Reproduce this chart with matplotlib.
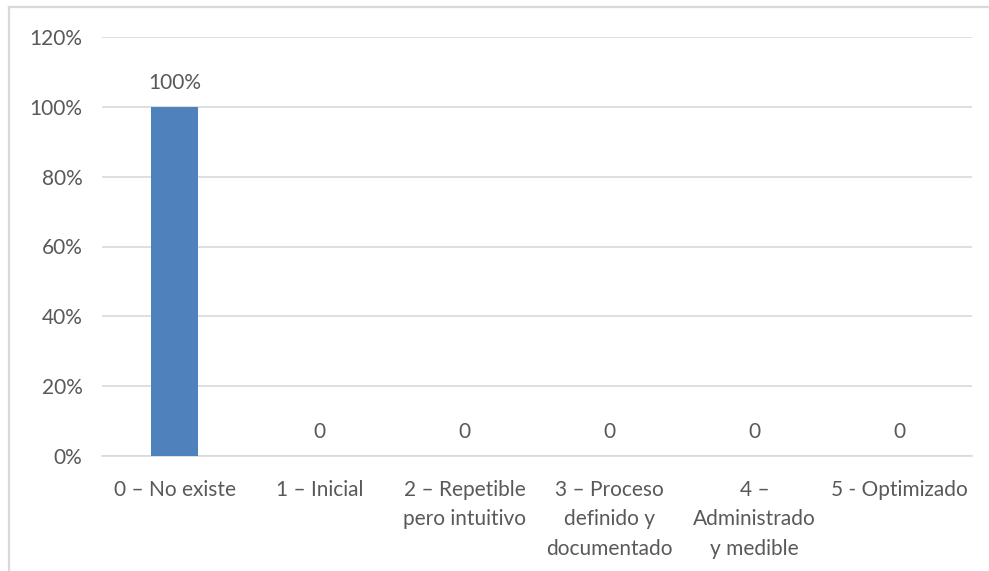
import matplotlib
matplotlib.use("Agg")
import matplotlib.pyplot as plt
from matplotlib.lines import Line2D
from matplotlib.ticker import FuncFormatter

# Maturity levels and share of responses per level
categories = [
    "0 – No existe",
    "1 – Inicial",
    "2 – Repetible\npero intuitivo",
    "3 – Proceso\ndefinido y\ndocumentado",
    "4 –\nAdministrado\ny medible",
    "5 - Optimizado",
]
values = [1.0, 0, 0, 0, 0, 0]
value_labels = ["100%", "0", "0", "0", "0", "0"]
y_ticks = [0, 0.2, 0.4, 0.6, 0.8, 1.0, 1.2]

TEXT = "#595959"
GRID = "#d9d9d9"
BAR = "#4f81bd"
FONT = ["Lato", "DejaVu Sans"]
FS = 15

W, H = 989, 571
fig = plt.figure(figsize=(W / 100, H / 100), dpi=100)
fig.patch.set_facecolor("white")

# chart frame (left and top edges)
fig.add_artist(Line2D([9 / W, 9 / W], [0, 1 - 7 / H], transform=fig.transFigure,
                      color=GRID, lw=1.6))
fig.add_artist(Line2D([9 / W, 1], [1 - 7 / H, 1 - 7 / H], transform=fig.transFigure,
                      color=GRID, lw=1.6))

left, right = 102 / W, 972 / W
bottom, top = (H - 456) / H, (H - 37) / H
ax = fig.add_axes([left, bottom, right - left, top - bottom])

x = list(range(len(categories)))
ax.bar(x, values, width=0.32, color=BAR, zorder=3)
ax.set_xlim(-0.5, len(categories) - 0.5)
ax.set_ylim(0, 1.2)
ax.set_yticks(y_ticks)
ax.yaxis.set_major_formatter(FuncFormatter(lambda v, _: f"{v * 100:.0f}%"))
ax.grid(axis="y", color=GRID, lw=1.2, zorder=0)
for s in ["top", "right", "left"]:
    ax.spines[s].set_visible(False)
ax.spines["bottom"].set_color(GRID)
ax.spines["bottom"].set_linewidth(1.2)
ax.tick_params(axis="both", length=0, colors=TEXT, labelsize=FS)
ax.tick_params(axis="y", pad=14)
ax.tick_params(axis="x", pad=17)
ax.set_xticks(x)
ax.set_xticklabels(categories, linespacing=1.6)
for lbl in ax.get_xticklabels() + ax.get_yticklabels():
    lbl.set_family(FONT)
    lbl.set_color(TEXT)

for xi, v, t in zip(x, values, value_labels):
    ax.annotate(t, (xi, v), xytext=(0, 10), textcoords="offset points",
                ha="center", va="bottom", fontsize=FS, color=TEXT, family=FONT)

fig.savefig("out.png", dpi=100, facecolor="white")
